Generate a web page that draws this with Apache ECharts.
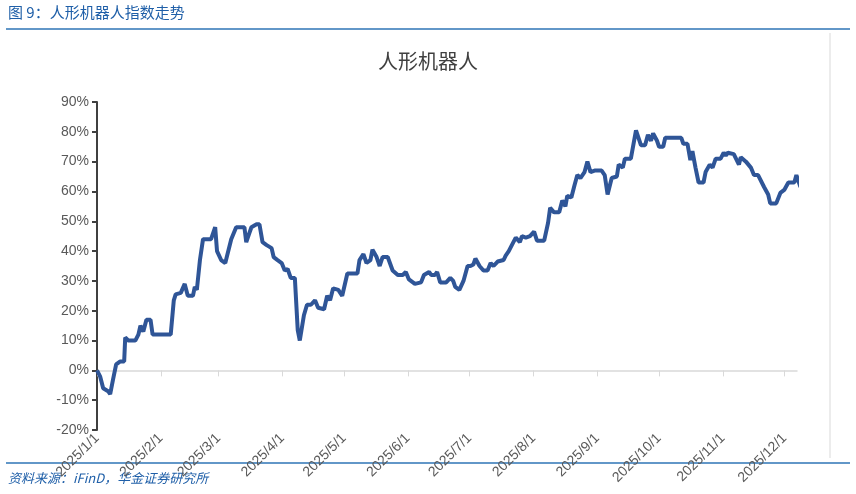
<!DOCTYPE html>
<html>
<head>
<meta charset="utf-8">
<script src="https://cdn.jsdelivr.net/npm/echarts@6/dist/echarts.min.js"></script>
<style>html,body{margin:0;padding:0;background:#fff}#con{width:856px;height:494px}</style>
</head>
<body>
<div id="con"></div>
<script>
// days after 2025/1/1
var days = [0,1.5,3,5.4,6.4,7.8,9.3,11.3,13.2,13.7,15.2,18.6,20.1,21.1,22.5,24,26,27,35.8,37.3,38.2,40.7,42.6,44.1,46.6,47.5,48.5,50,51.5,55.4,57.4,58.3,60.3,62.3,65.2,67.6,71.6,72.5,74,75,77.5,78.9,80.4,82.4,84.8,85.8,87.7,89.7,91.2,92.6,94.1,96.1,97.5,98.5,100.5,102,103.9,105.9,107.4,110.3,111.8,113.2,114.7,117.2,119.1,121.6,126.5,127.5,129.4,130.9,132.8,133.8,135.8,137.3,138.7,141.2,143.6,146.1,148.5,150,151.5,154.4,157.4,158.8,161.3,162.3,164.2,165.2,166.7,169.6,171.6,173,174,176,178,180,181.4,182.8,183.8,185.8,187.7,189.7,191.2,192.6,194.6,197.5,198.5,200,201.5,203.4,205.4,206.4,208.3,210.3,212.3,213.7,217.2,219.1,220.1,222,224.5,226,227.5,228.4,230.4,231.9,233.3,234.8,236.8,238.2,239.7,241.7,245.1,246.6,248,250,252.5,253.4,255.4,256.4,259.3,261.8,264.2,266.2,267.6,269.1,270.1,272,273,275,276,283.8,284.8,286.8,288.2,289.2,290.7,292.2,294.6,295.6,297.6,299,300.5,302.9,304.4,305.4,306.4,309.3,311.8,312.7,315.2,317.6,319.1,321.1,324,326,327,329.9,331.9,333.8,335.8,338.7,339.7,341.7,343.1];
var values = [0,-2,-6,-7,-8,-3,2,3,3,11,10,10,12,15,13,17,17,12,12,23.5,25.5,26,29,25,25,28,27,37,44,44,48,40,37,36,44,48,48,43,46,48,49,49,43,42,41,38,37,36,33.5,34,31,31,13.5,10,18.5,22,22,23.5,21,20.5,25,23.5,27.5,27,25,32.5,32.5,37,39,36,37,40.5,38,35,38,38,33.5,32,32,33,30.5,29,29.5,32,33,32,32,33,29.5,29.5,31,30,28,27,30,35,35,35.5,37.5,35,33.5,33.5,36,35,36.5,37,38.5,40,42,44.5,43,45,44.5,45,46.5,43.5,43.5,49.5,54.5,53,53,57,55,58.5,58,62,65.5,64.5,66.5,70,66.5,67,67,65.5,59,64.5,65,69,68,71,71,80.5,75.5,75.5,79,77,79.5,77,75,75,78,78,76,76,70.5,73.5,68,63,63,66.5,69,68,71,71,73,72,73,72.5,69,71.5,70,68,65.5,65.5,61.5,59,56,56,59.5,60.5,63,63,65.5,61.5,65.5];
// month starts, as days after 2025/1/1
var monthTicks = [0,31,59,90,120,151,181,212,243,273,304,334];

var DAY = 86400000;
var base = Date.UTC(2025, 0, 1);
var pts = days.map(function (d, i) { return [d, values[i]]; });

var myChart = echarts.init(document.getElementById('con'));
var option = {
    animation: false,
    title: {
        text: '人形机器人', left: 'center', top: 46,
        textStyle: {fontFamily: 'Noto Sans CJK SC', fontSize: 20, fontWeight: 'normal', color: '#404040'}
    },
    graphic: [
        {type: 'text', left: 8, top: 5, style: {text: '图 9：人形机器人指数走势', fill: '#1F5FA8', font: '15px "Noto Sans CJK SC"'}},
        {type: 'line', shape: {x1: 6, y1: 29, x2: 850, y2: 29}, style: {stroke: '#2E75B6', lineWidth: 1.5}},
        {type: 'line', shape: {x1: 830, y1: 33, x2: 830, y2: 458}, style: {stroke: '#d9d9d9', lineWidth: 1}},
        {type: 'line', shape: {x1: 6, y1: 463, x2: 850, y2: 463}, style: {stroke: '#2E75B6', lineWidth: 1.5}},
        {type: 'text', left: 8, top: 472, style: {text: '资料来源：iFinD，华金证券研究所', fill: '#1F5FA8', font: 'italic 13px "Noto Sans CJK SC"'}}
    ],
    grid: {left: 97, right: 59, top: 102, bottom: 64},
    xAxis: {
        type: 'value',
        min: 0,
        max: 340,
        axisLine: {onZero: true, lineStyle: {color: '#d9d9d9', width: 1.5}},
        axisTick: {show: true, customValues: monthTicks, length: 6, lineStyle: {color: '#d9d9d9'}},
        splitLine: {show: false},
        axisLabel: {
            customValues: monthTicks, rotate: 45, color: '#595959', fontSize: 14, margin: 6,
            fontFamily: 'Liberation Sans',
            formatter: function (v) { var d = new Date(base + v * DAY); return d.getUTCFullYear() + '/' + (d.getUTCMonth() + 1) + '/' + d.getUTCDate(); }
        }
    },
    yAxis: {
        type: 'value', min: -20, max: 90, interval: 10,
        axisLine: {show: true, onZero: false, lineStyle: {color: '#404040', width: 2}},
        axisTick: {show: true, length: 5, lineStyle: {color: '#404040', width: 2}},
        splitLine: {show: false},
        axisLabel: {formatter: '{value}%', color: '#595959', fontSize: 14, fontFamily: 'Liberation Sans'}
    },
    series: [{
        type: 'line', data: pts, showSymbol: false, clip: false,
        lineStyle: {color: '#2F5597', width: 4}
    }]
};
myChart.setOption(option);
</script>
</body>
</html>
